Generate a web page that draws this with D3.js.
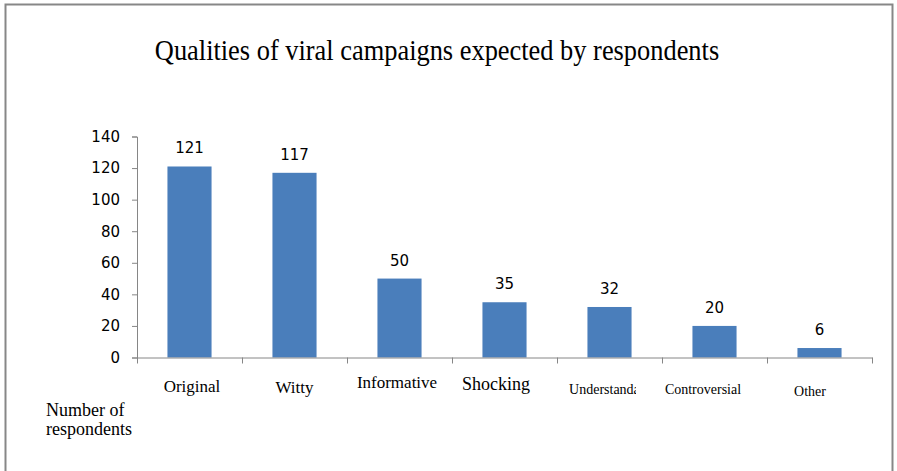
<!DOCTYPE html>
<html>
<head>
<meta charset="utf-8">
<script src="https://cdn.jsdelivr.net/npm/d3@7"></script>
<style>
  body { margin: 0; background: #fff; }
  svg { display: block; }
</style>
</head>
<body>
<svg width="897" height="471"></svg>
<script>
// chart data
var categories = ['Original', 'Witty', 'Informative', 'Shocking', 'Understandable', 'Controversial', 'Other'];
var respondents = [121, 117, 50, 35, 32, 20, 6];
var yTicks = [0, 20, 40, 60, 80, 100, 120, 140];

// the category labels are not lined up in the original, keep their quirks here
var labelDx = [2.5, 0, -2.5, -8.5, 3.5, -11.5, -9.5];
var labelBaseline = [392, 393, 388, 390, 394, 394, 396];
var labelSize = [17, 17, 17, 18, 14, 14, 14];

var svg = d3.select('svg');
var axisColor = '#868686';
var barColor = '#4a7ebb';
var serif = '"Liberation Serif", "Times New Roman", serif';

// outer frame
svg.append('rect')
    .attr('x', 5.5).attr('y', 4.5)
    .attr('width', 887).attr('height', 480)
    .style('fill', 'none')
    .style('stroke', '#878787')
    .style('stroke-width', 2);

var plot = {l: 137, r: 872, t: 136.5, b: 357.5};

var x = d3.scaleBand()
    .domain(categories)
    .range([plot.l, plot.r])
    .paddingInner(0.58)
    .paddingOuter(0.29);

var y = d3.scaleLinear()
    .domain([0, 140])
    .range([plot.b, plot.t]);

// title (the original is a bit narrow for its height)
svg.append('text')
    .attr('transform', 'translate(437,60) scale(0.88,1)')
    .attr('text-anchor', 'middle')
    .style('font-family', serif)
    .style('font-size', '30px')
    .style('fill', '#000')
    .text('Qualities of viral campaigns expected by respondents');

// y axis
var yAxis = svg.append('g')
    .attr('transform', 'translate(' + plot.l + ',0)')
    .call(d3.axisLeft(y).tickValues(yTicks).tickSize(5).tickPadding(12));
yAxis.selectAll('path, line').style('stroke', axisColor);
yAxis.selectAll('text')
    .style('font-family', '"DejaVu Sans", sans-serif')
    .style('font-size', '15px')
    .style('fill', '#000');

// bars
svg.selectAll('.bar')
    .data(respondents)
    .enter().append('rect')
    .attr('class', 'bar')
    .attr('x', function(d, i) { return x(categories[i]); })
    .attr('y', function(d) { return y(d); })
    .attr('width', x.bandwidth())
    .attr('height', function(d) { return y(0) - y(d); })
    .style('fill', barColor);

// value labels
svg.selectAll('.value')
    .data(respondents)
    .enter().append('text')
    .attr('class', 'value')
    .attr('x', function(d, i) { return x(categories[i]) + x.bandwidth() / 2; })
    .attr('y', function(d) { return y(d) - 13; })
    .attr('text-anchor', 'middle')
    .style('font-family', '"DejaVu Sans", sans-serif')
    .style('font-size', '15px')
    .style('fill', '#000')
    .text(function(d) { return d; });

// x axis, ticks sit on the band edges
var edge = d3.scaleLinear().domain([0, categories.length]).range([plot.l, plot.r]);
var xAxis = svg.append('g')
    .attr('transform', 'translate(0,' + plot.b + ')')
    .call(d3.axisBottom(edge).tickValues(d3.range(categories.length + 1)).tickSize(6).tickSizeOuter(0).tickFormat(''));
xAxis.selectAll('path, line').style('stroke', axisColor);

// clip for the cut off "Understandable" label
svg.append('defs').append('clipPath')
    .attr('id', 'clipCut')
    .append('rect')
    .attr('x', edge(4))
    .attr('y', 360)
    .attr('width', 79)
    .attr('height', 60);

svg.selectAll('.cat')
    .data(categories)
    .enter().append('text')
    .attr('class', 'cat')
    .attr('x', function(d, i) { return x(d) + x.bandwidth() / 2 + labelDx[i]; })
    .attr('y', function(d, i) { return labelBaseline[i]; })
    .attr('text-anchor', 'middle')
    .attr('clip-path', function(d, i) { return i === 4 ? 'url(#clipCut)' : null; })
    .style('font-family', serif)
    .style('font-size', function(d, i) { return labelSize[i] + 'px'; })
    .style('fill', '#000')
    .text(function(d) { return d; });

// axis title, bottom left
svg.append('text')
    .attr('x', 46)
    .attr('y', 416)
    .style('font-family', serif)
    .style('font-size', '18px')
    .style('fill', '#000')
    .selectAll('tspan')
    .data(['Number of', 'respondents'])
    .enter().append('tspan')
    .attr('x', 46)
    .attr('dy', function(d, i) { return i ? 19 : 0; })
    .text(function(d) { return d; });
</script>
</body>
</html>
